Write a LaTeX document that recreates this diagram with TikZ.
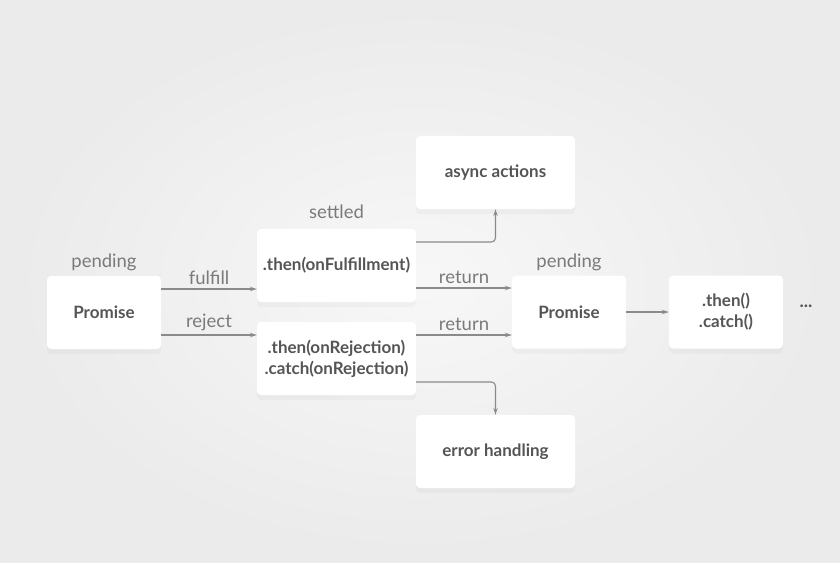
\documentclass[tikz,border=0pt]{standalone}
\usepackage{fontspec}
\setmainfont{Lato}
\usetikzlibrary{positioning}
\usetikzlibrary{arrows.meta}
\usetikzlibrary{shadows}
\usetikzlibrary{calc}

\definecolor{boxtext}{HTML}{555555}
\definecolor{labeltext}{HTML}{7A7A7A}
\definecolor{linecol}{HTML}{8A8A8A}

\begin{document}
\begin{tikzpicture}[x=1pt,y=-1pt,
    box/.style={fill=white, rounded corners=4pt, minimum width=114pt, minimum height=73pt,
        align=center, text=boxtext, font=\fontsize{17}{21}\selectfont\bfseries,
        drop shadow={opacity=0.06, shadow xshift=0pt, shadow yshift=-5pt}},
    wide/.style={minimum width=159pt},
    lbl/.style={text=labeltext, font=\fontsize{18.5}{22}\selectfont},
    flow/.style={draw=linecol, line width=1.1pt, -{Stealth[length=7pt,width=4.5pt]}, rounded corners=4pt}]

        % Background
        \useasboundingbox (0,0) rectangle (840,562);
        \shade[inner color=white!97!black, outer color=white!92!black] (0,0) rectangle (840,562);

        % Boxes
        \node[box] (prom1) at (104,312.5) {Promise};
        \node[box, wide] (onful) at (336.5,265.5) {.then(onFulfillment)};
        \node[box, wide] (onrej) at (336.5,358.5) {.then(onRejection)\\.catch(onRejection)};
        \node[box, wide] (async) at (495.5,172.5) {async actions};
        \node[box, wide] (err) at (495.5,451.5) {error handling};
        \node[box] (prom2) at (569,312) {Promise};
        \node[box] (chain) at (726,312) {.then()\\.catch()};

        % State labels
        \node[lbl] (pend1) at (104,262) {pending};
        \node[lbl] (settled) at (336.5,212) {settled};
        \node[lbl] (pend2) at (569,262) {pending};
        \node[lbl, text=boxtext, font=\fontsize{18}{22}\selectfont\bfseries] (dots) at (806,306) {...};

        % Arrows
        \draw[flow] ([yshift=23.5pt]prom1.east) -- ([yshift=23.5pt]prom1.east -| onful.west)
            node[lbl, midway, above=0pt] (fulfill) {fulfill};
        \draw[flow] ([yshift=-22.5pt]prom1.east) -- ([yshift=-22.5pt]prom1.east -| onrej.west)
            node[lbl, midway, above=0pt] (reject) {reject};
        \draw[flow] ([yshift=-22.5pt]onful.east) -- ([yshift=-22.5pt]onful.east -| prom2.west)
            node[lbl, midway, above=0pt] (ret1) {return};
        \draw[flow] ([yshift=23.5pt]onrej.east) -- ([yshift=23.5pt]onrej.east -| prom2.west)
            node[lbl, midway, above=0pt] (ret2) {return};
        \draw[flow] (prom2) -- (chain);
        \draw[flow] ([yshift=23.5pt]onful.east) -| (async.south);
        \draw[flow] ([yshift=-23.5pt]onrej.east) -| (err.north);
\end{tikzpicture}
\end{document}
